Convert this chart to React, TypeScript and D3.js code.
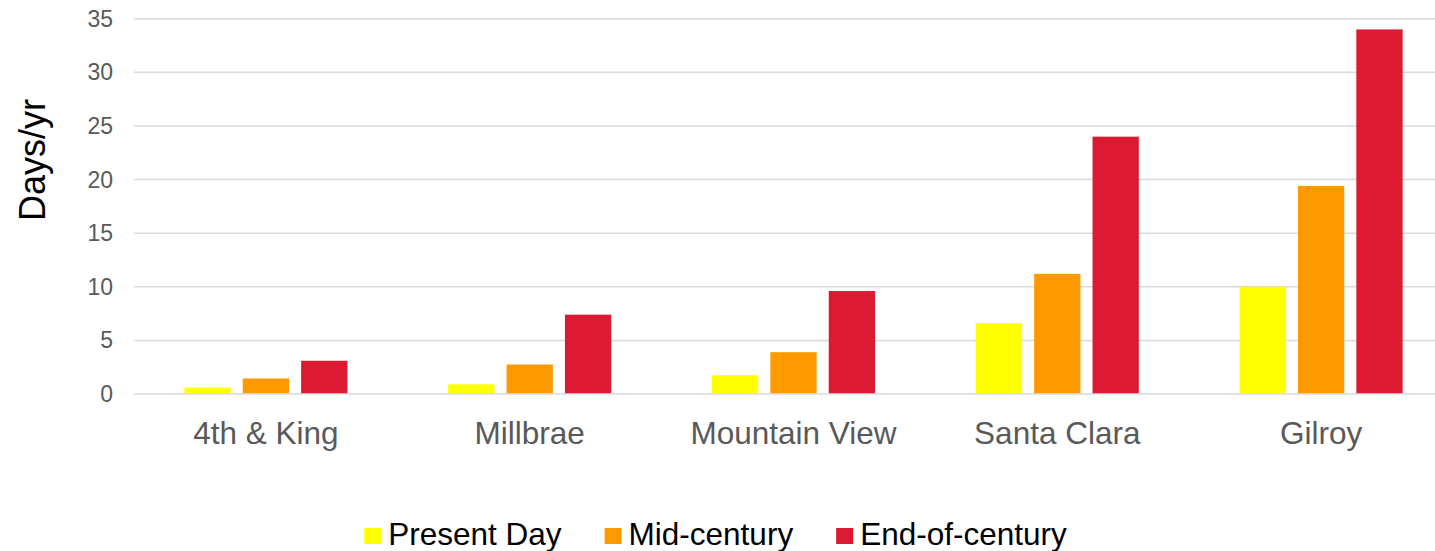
import React, { useEffect, useRef } from "react";
import * as d3 from "d3";

const categories = ["4th & King", "Millbrae", "Mountain View", "Santa Clara", "Gilroy"];
const seriesNames = ["Present Day", "Mid-century", "End-of-century"];
const seriesColors = ["#FFFF00", "#FF9900", "#DC1A33"];
const presentDay = [0.6, 0.9, 1.75, 6.6, 10.0];
const midCentury = [1.45, 2.75, 3.9, 11.2, 19.4];
const endOfCentury = [3.1, 7.4, 9.6, 24.0, 34.0];
const yTicks = [0, 5, 10, 15, 20, 25, 30, 35];

const App = () => {
  const svgRef = useRef<SVGSVGElement>(null);

  useEffect(() => {
    const width = 1435,
      height = 551;
    const left = 134,
      right = 1453,
      top = 18.7,
      bottom = 394;
    const font = "'Liberation Sans', Arial, sans-serif";
    const tickColor = "#595959";

    const series = [presentDay, midCentury, endOfCentury];

    const svg = d3
      .select(svgRef.current)
      .attr("width", width)
      .attr("height", height)
      .html("");

    svg.append("rect").attr("width", width).attr("height", height).attr("fill", "#fff");

    const x0 = d3
      .scaleBand<string>()
      .domain(categories)
      .range([left, right])
      .paddingInner(0.382)
      .paddingOuter(0.191);

    const x1 = d3
      .scaleBand<string>()
      .domain(seriesNames)
      .range([0, x0.bandwidth()])
      .paddingInner(0.207);

    const y = d3.scaleLinear().domain([0, 35]).range([bottom, top]);

    // gridlines
    svg
      .append("g")
      .selectAll("line")
      .data(yTicks)
      .enter()
      .append("line")
      .attr("x1", left)
      .attr("x2", width)
      .attr("y1", (d) => y(d))
      .attr("y2", (d) => y(d))
      .attr("stroke", "#d9d9d9")
      .attr("stroke-width", 1.5);

    // y tick labels
    svg
      .append("g")
      .selectAll("text")
      .data(yTicks)
      .enter()
      .append("text")
      .attr("x", 113)
      .attr("y", (d) => y(d))
      .attr("dy", "0.35em")
      .attr("text-anchor", "end")
      .style("font-family", font)
      .style("font-size", "23px")
      .style("fill", tickColor)
      .text((d) => d);

    // bars
    const groups = svg
      .append("g")
      .selectAll("g")
      .data(categories)
      .enter()
      .append("g")
      .attr("transform", (d) => `translate(${x0(d)},0)`);

    groups
      .selectAll("rect")
      .data((_, i) => seriesNames.map((name, s) => ({ name, s, value: series[s][i] })))
      .enter()
      .append("rect")
      .attr("x", (d) => x1(d.name)!)
      .attr("width", x1.bandwidth())
      .attr("y", (d) => y(d.value))
      .attr("height", (d) => bottom - 0.75 - y(d.value))
      .attr("fill", (d) => seriesColors[d.s]);

    // category labels
    svg
      .append("g")
      .selectAll("text")
      .data(categories)
      .enter()
      .append("text")
      .attr("x", (d) => x0(d)! + x0.bandwidth() / 2)
      .attr("y", 444)
      .attr("text-anchor", "middle")
      .style("font-family", font)
      .style("font-size", "31.5px")
      .style("fill", tickColor)
      .text((d) => d);

    // y axis title
    svg
      .append("text")
      .attr("transform", "translate(45,160) rotate(-90)")
      .attr("text-anchor", "middle")
      .style("font-family", font)
      .style("font-size", "36px")
      .style("fill", "#000")
      .text("Days/yr");

    // legend
    const legend = svg.append("g");
    const items = legend
      .selectAll("g")
      .data(seriesNames)
      .enter()
      .append("g");
    items
      .append("rect")
      .attr("width", 17)
      .attr("height", 16)
      .attr("y", 528)
      .attr("fill", (_, i) => seriesColors[i]);
    items
      .append("text")
      .attr("x", 24)
      .attr("y", 545)
      .style("font-family", font)
      .style("font-size", "31.5px")
      .style("fill", "#000")
      .text((d) => d);

    const widths: number[] = [];
    items.each(function () {
      const t = d3.select(this).select("text").node() as SVGTextElement;
      widths.push(24 + t.getComputedTextLength());
    });
    const gap = 43;
    const total = d3.sum(widths) + gap * (widths.length - 1);
    let cx = 715.5 - total / 2;
    items.attr("transform", (_, i) => {
      const tx = cx;
      cx += widths[i] + gap;
      return `translate(${tx},0)`;
    });
  }, []);

  return (
    <svg
      ref={svgRef}
      style={{ position: "absolute", left: 0, top: 0, display: "block" }}
    ></svg>
  );
};

export default App;
